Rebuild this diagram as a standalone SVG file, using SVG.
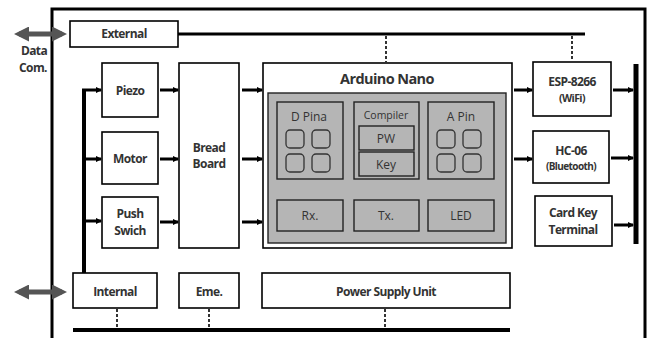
<svg xmlns="http://www.w3.org/2000/svg" width="654" height="338" viewBox="0 0 654 338">
<style>
.box{fill:#fff;stroke:#000;stroke-width:1.6}
.gbox{fill:#b5b5b5;stroke:#222;stroke-width:1.4}
.sq{fill:#b5b5b5;stroke:#333;stroke-width:1.3}
.t{font-family:"Open Sans","Noto Sans",sans-serif;font-weight:700;font-size:12px;fill:#333;text-anchor:middle;letter-spacing:-0.6px}
.ti{font-family:"Open Sans","Noto Sans",sans-serif;font-size:12px;fill:#333;text-anchor:middle}
.ts{font-size:10.5px}
.ln{stroke:#000;fill:none}
.arr{stroke:#000;stroke-width:3;fill:none;marker-end:url(#ah)}
.dash{stroke:#333;stroke-width:2;stroke-dasharray:3,2;fill:none}
.dbl{stroke:#555;stroke-width:5;fill:none;marker-start:url(#dh);marker-end:url(#dh)}
</style>
<defs>
<marker id="ah" viewBox="0 0 6 6" refX="5" refY="3" markerWidth="2.2" markerHeight="2.2" orient="auto"><path d="M0,0L6,3L0,6z" fill="#000"/></marker>
<marker id="dh" viewBox="0 0 6 6" refX="4" refY="3" markerWidth="3" markerHeight="3" orient="auto-start-reverse"><path d="M0,0L6,3L0,6z" fill="#555"/></marker>
</defs>

<g id="frame">
<path class="ln" stroke-width="3" d="M52,338V9H645V338"/>
</g>

<g id="connectors">
<path class="dbl" d="M19,34H62"/>
<path class="dbl" d="M19,292H62"/>
<path class="ln" stroke-width="3" d="M178,34H585"/>
<path class="ln" stroke-width="4" d="M73,330H510"/>
<path class="ln" stroke-width="4" d="M84,273V90"/>
<path class="ln" stroke-width="5" d="M636,64V244"/>
<path class="dash" d="M386,36V62"/>
<path class="dash" d="M572,36V61"/>
<path class="dash" d="M117,309V328"/>
<path class="dash" d="M209,309V328"/>
<path class="dash" d="M385,309V328"/>
<path class="arr" d="M82,90H101"/>
<path class="arr" d="M84,159H101"/>
<path class="arr" d="M84,221H101"/>
<path class="arr" d="M160,90H178"/>
<path class="arr" d="M160,159H178"/>
<path class="arr" d="M160,222H178"/>
<path class="arr" d="M242,90H262"/>
<path class="arr" d="M242,159H262"/>
<path class="arr" d="M242,222H262"/>
<path class="arr" d="M514,90H532"/>
<path class="arr" d="M514,159H532"/>
<path class="arr" d="M613,90H633"/>
<path class="arr" d="M611,158H633"/>
<path class="arr" d="M614,225H633"/>
</g>

<g id="data-comm"><text class="t" x="34" y="55">Data</text><text class="t" x="33" y="72">Com.</text></g>

<g id="external"><rect class="box" x="70" y="21" width="108" height="26"/><text class="t" x="124" y="38">External</text></g>
<g id="piezo"><rect class="box" x="102" y="63" width="56" height="54"/><text class="t" x="130" y="95">Piezo</text></g>
<g id="motor"><rect class="box" x="102" y="132" width="56" height="52"/><text class="t" x="130" y="163">Motor</text></g>
<g id="push-switch"><rect class="box" x="102" y="197" width="56" height="51"/><text class="t" x="130" y="218">Push</text><text class="t" x="130" y="235">Swich</text></g>
<g id="bread-board"><rect class="box" x="179" y="63" width="60" height="185"/><text class="t" x="209" y="152">Bread</text><text class="t" x="209" y="168">Board</text></g>

<g id="arduino-nano">
<rect class="box" x="263" y="63" width="249" height="185" stroke-width="2"/>
<text class="t" x="387" y="84" style="font-size:14.5px">Arduino Nano</text>
<rect class="gbox" x="268" y="93" width="238" height="150" stroke-width="2"/>
</g>
<g id="d-pin"><rect class="gbox" x="277" y="102" width="66" height="77"/><text class="ti" x="309" y="121">D  Pina</text>
<rect class="sq" x="286" y="130" width="18" height="18" rx="4"/><rect class="sq" x="312" y="130" width="18" height="18" rx="4"/>
<rect class="sq" x="286" y="154" width="18" height="18" rx="4"/><rect class="sq" x="312" y="154" width="18" height="18" rx="4"/></g>
<g id="compiler"><rect class="gbox" x="354" y="102" width="65" height="77"/><text class="ti ts" x="386" y="119">Compiler</text>
<rect class="gbox" x="359" y="126" width="55" height="24"/><text class="ti" x="386" y="143">PW</text>
<rect class="gbox" x="359" y="152" width="55" height="24"/><text class="ti" x="386" y="169">Key</text></g>
<g id="a-pin"><rect class="gbox" x="428" y="102" width="66" height="77"/><text class="ti" x="461" y="121">A    Pin</text>
<rect class="sq" x="437" y="130" width="18" height="18" rx="4"/><rect class="sq" x="463" y="130" width="18" height="18" rx="4"/>
<rect class="sq" x="437" y="154" width="18" height="18" rx="4"/><rect class="sq" x="463" y="154" width="18" height="18" rx="4"/></g>
<g id="rx"><rect class="gbox" x="277" y="200" width="66" height="31"/><text class="ti" x="310" y="220">Rx.</text></g>
<g id="tx"><rect class="gbox" x="354" y="200" width="65" height="31"/><text class="ti" x="386" y="220">Tx.</text></g>
<g id="led"><rect class="gbox" x="428" y="200" width="66" height="31"/><text class="ti" x="461" y="220">LED</text></g>

<g id="esp8266"><rect class="box" x="533" y="62" width="78" height="54"/><text class="t" x="572" y="86">ESP-8266</text><text class="t" x="572" y="102" style="font-size:10.5px">(WiFi)</text></g>
<g id="hc06"><rect class="box" x="533" y="131" width="76" height="52"/><text class="t" x="571" y="155">HC-06</text><text class="t" x="571" y="170" style="font-size:10px">(Bluetooth)</text></g>
<g id="card-key"><rect class="box" x="535" y="196" width="77" height="50"/><text class="t" x="573" y="217">Card Key</text><text class="t" x="573" y="234">Terminal</text></g>

<g id="internal"><rect class="box" x="73" y="273" width="84" height="35"/><text class="t" x="115" y="296">Internal</text></g>
<g id="eme"><rect class="box" x="179" y="273" width="60" height="35"/><text class="t" x="209" y="296">Eme.</text></g>
<g id="psu"><rect class="box" x="262" y="273" width="248" height="35"/><text class="t" x="386" y="296">Power Supply Unit</text></g>
</svg>
